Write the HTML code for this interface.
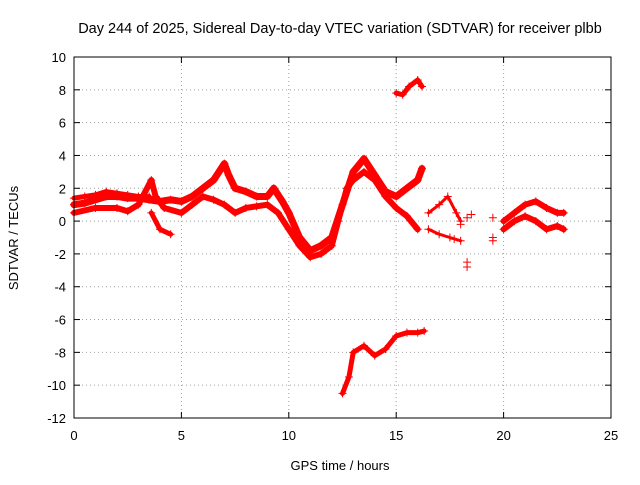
<!DOCTYPE html>
<html><head><meta charset="utf-8"><style>
body{margin:0;background:#fff}
svg text{font-family:"Liberation Sans",sans-serif;font-size:13px;fill:#000}
svg text.title{font-size:14.5px}
</style></head><body>
<svg id="chart" width="640" height="480" xmlns="http://www.w3.org/2000/svg">
<rect width="640" height="480" fill="#fff"/>
<text class="title" x="340" y="33" text-anchor="middle">Day 244 of 2025, Sidereal Day-to-day VTEC variation (SDTVAR) for receiver plbb</text>
<text x="340" y="470" text-anchor="middle">GPS time / hours</text>
<text x="18" y="238" text-anchor="middle" transform="rotate(-90 18 238)">SDTVAR / TECUs</text>
<g id="grid"></g><g id="marks"></g><g id="axes"></g>
</svg>
<script>
const xTicks=[0,5,10,15,20,25];
const yTicks=[10,8,6,4,2,0,-2,-4,-6,-8,-10,-12];
const trackA_t=[0,0.5,1,1.5,2,2.5,3,3.5,4,4.5,5,5.5,6,6.5,7,7.2,7.5,8,8.5,9,9.3,9.7,10,10.5,11,11.5,12,12.5,13,13.5,14,14.5,15,15.5,16,16.2];
const trackA_v=[1.0,1.1,1.3,1.5,1.5,1.4,1.4,1.3,1.2,1.3,1.2,1.5,2.0,2.5,3.5,2.8,2.0,1.8,1.5,1.5,2.0,1.2,0.5,-1.0,-1.8,-1.5,-1.0,1.0,3.0,3.8,2.8,1.8,1.5,2.0,2.5,3.2];
const trackB_t=[0,1,2,2.5,3,3.6,3.8,4.2,5,5.5,6,6.5,7,7.5,8,8.5,9,9.5,10,10.5,11,11.5,12,12.3,12.7,13,13.5,14,14.5,15,15.5,16];
const trackB_v=[0.5,0.8,0.8,0.6,1.0,2.5,1.5,0.8,0.5,1.0,1.5,1.3,1.0,0.5,0.8,0.9,1.0,0.5,-0.5,-1.5,-2.2,-2.0,-1.5,0,2.0,2.5,3.0,2.5,1.5,0.8,0.3,-0.5];
const trackJ_t=[0,0.5,1,1.5,2,2.5,3,3.5];
const trackJ_v=[1.4,1.5,1.6,1.8,1.7,1.6,1.5,1.5];
const trackC_t=[3.6,4,4.5];
const trackC_v=[0.5,-0.5,-0.8];
const trackD_t=[15,15.3,15.6,16,16.2];
const trackD_v=[7.8,7.7,8.2,8.6,8.2];
const trackE_t=[12.5,12.8,13,13.5,14,14.5,15,15.5,16,16.3];
const trackE_v=[-10.5,-9.5,-8.0,-7.6,-8.2,-7.8,-7.0,-6.8,-6.8,-6.7];
const trackF_t=[16.5,17,17.4,17.8,18];
const trackF_v=[0.5,1.0,1.5,0.5,0];
const trackG_t=[16.5,17,17.5,18];
const trackG_v=[-0.5,-0.8,-1.0,-1.2];
const trackH_t=[20,20.5,21,21.5,22,22.5,22.8];
const trackH_v=[0,0.5,1.0,1.2,0.8,0.5,0.5];
const trackI_t=[20,20.5,21,21.5,22,22.5,22.8];
const trackI_v=[-0.5,0,0.3,0,-0.5,-0.3,-0.5];
const isoT=[18.3,18.3,18.3,18.5,19.5,19.5,19.5,18.0,17.7];
const isoV=[-2.5,-2.8,0.2,0.4,0.2,-1.0,-1.2,-0.2,-1.1];

const X0=74,X1=611,Y0=418,Y1=57;
const xs=t=>X0+(t-0)/25*(X1-X0);
const ys=v=>Y0-(v+12)/22*(Y0-Y1);
const NS="http://www.w3.org/2000/svg";
function mk(tag,parent,attrs){const e=document.createElementNS(NS,tag);for(const k in attrs)e.setAttribute(k,attrs[k]);parent.appendChild(e);return e;}
const grid=document.getElementById('grid'),axes=document.getElementById('axes'),marks=document.getElementById('marks');
xTicks.forEach(t=>{
 const x=xs(t);
 if(t>0&&t<25){const g=mk('line',grid,{x1:x,x2:x,y1:Y0,y2:Y1,stroke:'#a0a0a0','stroke-dasharray':'1,3'});
 
 }
 mk('line',axes,{x1:x,x2:x,y1:Y0,y2:Y0-6,stroke:'#000'});
 mk('line',axes,{x1:x,x2:x,y1:Y1,y2:Y1+6,stroke:'#000'});
 const l=mk('text',axes,{x:x,y:Y0+22,'text-anchor':'middle'});l.textContent=t;
 
 
});
yTicks.forEach(v=>{
 const y=ys(v);
 if(v>-12&&v<10){const g=mk('line',grid,{x1:X0,x2:X1,y1:y,y2:y,stroke:'#a0a0a0','stroke-dasharray':'1,3'});
 
 }
 mk('line',axes,{x1:X0,x2:X0+6,y1:y,y2:y,stroke:'#000'});
 mk('line',axes,{x1:X1,x2:X1-6,y1:y,y2:y,stroke:'#000'});
 const l=mk('text',axes,{x:X0-8,y:y+5,'text-anchor':'end'});l.textContent=v;
 
 
});
const frame=mk('rect',axes,{x:X0,y:Y1,width:X1-X0,height:Y0-Y1,fill:'none',stroke:'#000'});


function plus(t,v){
 const x=xs(t),y=ys(v);
 const p=mk('path',marks,{d:`M${x-4} ${y}H${x+4}M${x} ${y-4}V${y+4}`,stroke:'#f00','stroke-width':1});
 
 
}
function track(T,V,w,name){
 const pl=mk('polyline',marks,{points:T.map((t,i)=>xs(t)+','+ys(V[i])).join(' '),fill:'none',stroke:'#f00','stroke-width':w,'stroke-linejoin':'round','stroke-linecap':'round'});
 
 
 T.forEach((t,i)=>plus(t,V[i]));
}
track(trackA_t,trackA_v,7,'series-main-upper');
track(trackB_t,trackB_v,6,'series-main-lower');
track(trackJ_t,trackJ_v,5,'series-early-top');
track(trackC_t,trackC_v,5,'series-branch-4h');
track(trackD_t,trackD_v,5,'series-top-arc');
track(trackE_t,trackE_v,5,'series-bottom-arc');
track(trackF_t,trackF_v,3,'series-17h-upper');
track(trackG_t,trackG_v,3,'series-17h-lower');
track(trackH_t,trackH_v,6,'series-late-upper');
track(trackI_t,trackI_v,6,'series-late-lower');
isoT.forEach((t,i)=>plus(t,isoV[i]));
</script>
</body></html>
